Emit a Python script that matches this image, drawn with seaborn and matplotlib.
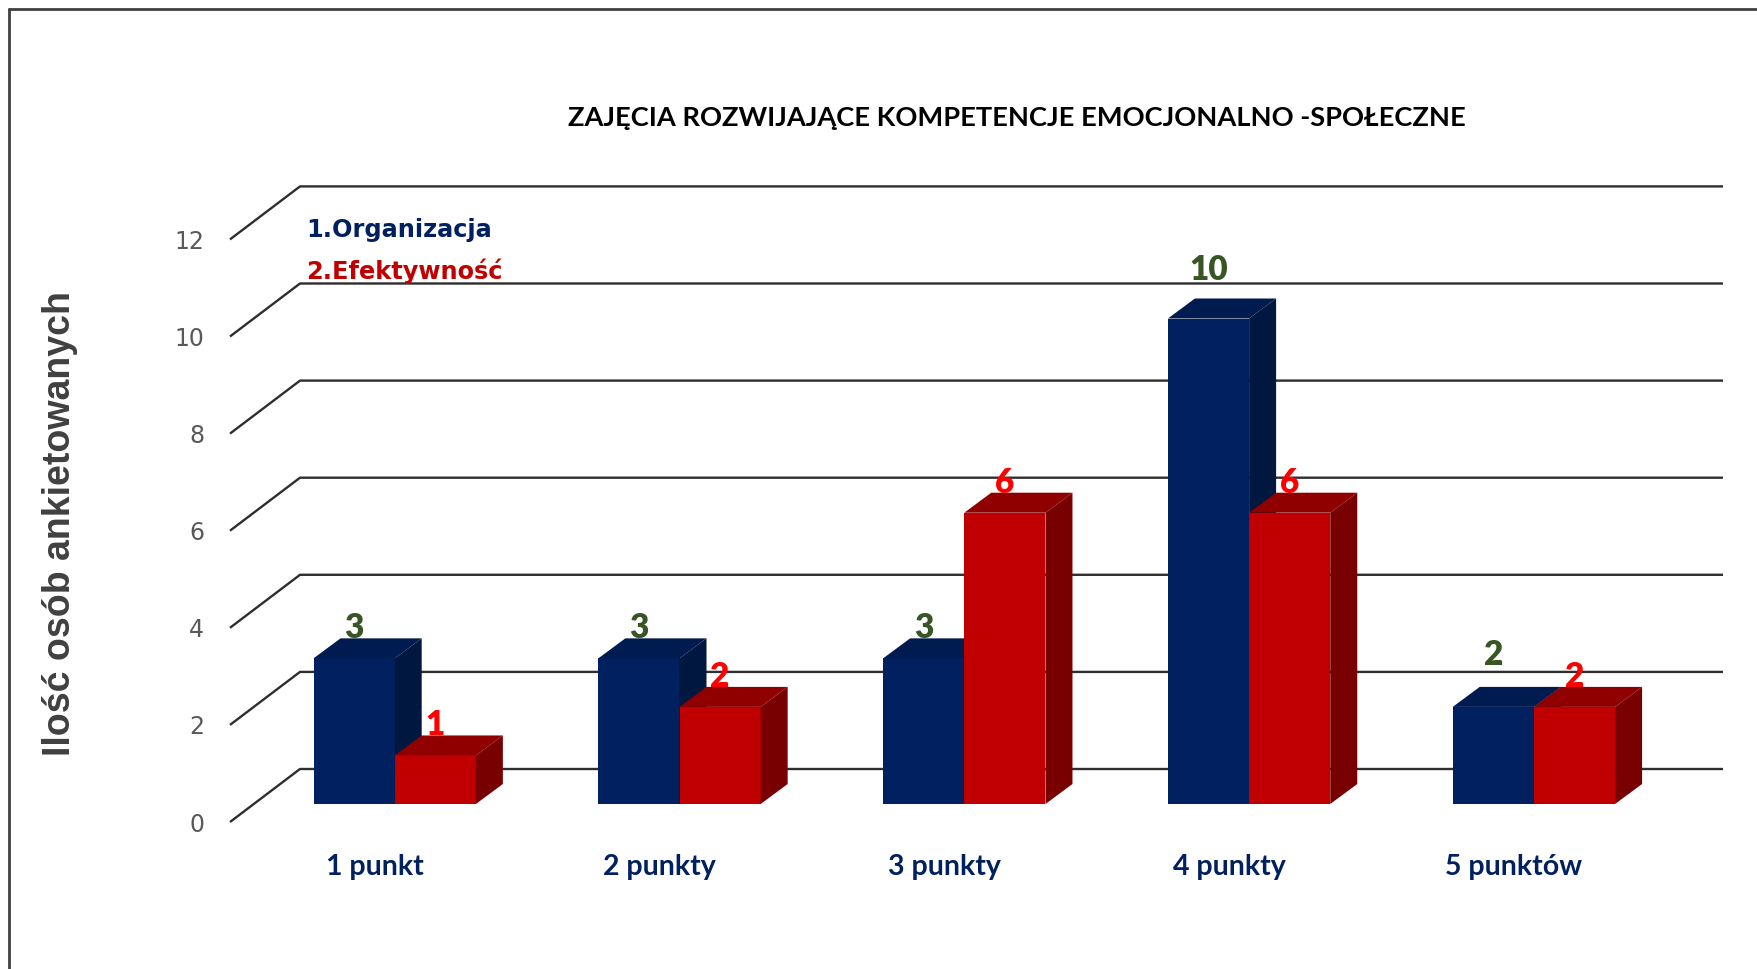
import numpy as np
import pandas as pd
import matplotlib
matplotlib.use("Agg")
import matplotlib.pyplot as plt
import matplotlib.transforms as mtransforms
from matplotlib.patches import Polygon, Patch
from matplotlib.lines import Line2D
import seaborn as sns

# ---------------- data ----------------
categories = ["1 punkt", "2 punkty", "3 punkty", "4 punkty", "5 punktów"]
series_names = ["1.Organizacja", "2.Efektywność"]
organizacja = [3, 3, 3, 10, 2]
efektywnosc = [1, 2, 6, 6, 2]
y_ticks = [0, 2, 4, 6, 8, 10, 12]
title = "ZAJĘCIA ROZWIJAJĄCE KOMPETENCJE EMOCJONALNO -SPOŁECZNE"
y_label = "Ilość osób ankietowanych"

# ---------------- style ----------------
sns.set_style("white")
plt.rcParams["font.family"] = ["Lato", "DejaVu Sans"]

W, H, DPI = 1758, 969, 100
front_col = ["#002060", "#C00000"]
top_col = ["#001B50", "#900000"]
side_col = ["#00173F", "#780000"]
value_col = ["#375623", "#FF0000"]
green_lift_px = [0, 0, 0, 18, 22]   # extra lift of the green value labels (px)
base_lift_px = 30

depth_px = (27, 20)        # bar depth offset (right, up) in px
floor_drop_px = 18         # floor front edge below bar front base
wall_px = (70, 53)         # floor depth (front edge -> back wall)

df = pd.DataFrame({
    "kategoria": categories * 2,
    "seria": [series_names[0]] * len(categories) + [series_names[1]] * len(categories),
    "liczba": organizacja + efektywnosc,
})

fig = plt.figure(figsize=(W / DPI, H / DPI), dpi=DPI)
ax_l, ax_r, ax_t, ax_b = 230, 1723, 186, 822
ax = fig.add_axes([ax_l / W, 1 - ax_b / H, (ax_r - ax_l) / W, (ax_b - ax_t) / H])

sns.barplot(data=df, x="kategoria", y="liczba", hue="seria",
            palette=front_col, width=0.57, saturation=1, legend=False,
            linewidth=0, ax=ax)

ppu_y = 48.55
ppu_x = 284.8
xmin = (ax_l - 394.7) / ppu_x
xmax = (ax_r - 394.7) / ppu_x
ymin = -(ax_b - 804) / ppu_y
ymax = (804 - ax_t) / ppu_y
ax.set_xlim(xmin, xmax)
ax.set_ylim(ymin, ymax)

dx = depth_px[0] / ppu_x
dy = depth_px[1] / ppu_y
fdrop = floor_drop_px / ppu_y
wdx = wall_px[0] / ppu_x
wdy = wall_px[1] / ppu_y

# back wall gridlines with diagonal floor/side lines
for t in y_ticks:
    y_front = t - fdrop
    ax.plot([xmin, xmin + wdx, xmax], [y_front, y_front + wdy, y_front + wdy],
            color="#2E2E2E", lw=1.7, zorder=1, solid_capstyle="butt",
            clip_on=False)

# 3D faces for bars
bars = list(ax.patches)
n = len(categories)
for k, bar in enumerate(bars):
    s = k // n
    i = k % n
    bar.set_zorder(3 + s)
    x = bar.get_x()
    w = bar.get_width()
    h = bar.get_height()
    side = Polygon([(x + w, 0), (x + w + dx, dy), (x + w + dx, h + dy), (x + w, h)],
                   closed=True, facecolor=side_col[s], edgecolor="none", zorder=3 + s)
    top = Polygon([(x, h), (x + dx, h + dy), (x + w + dx, h + dy), (x + w, h)],
                  closed=True, facecolor=top_col[s], edgecolor="none", zorder=3 + s)
    ax.add_patch(side)
    ax.add_patch(top)
    lift = base_lift_px + (green_lift_px[i] if s == 0 else 0)
    ax.annotate(f"{int(h)}", xy=(x + w / 2, h), xytext=(0, lift * 72 / DPI),
                textcoords="offset points", ha="center", va="center",
                fontsize=24, fontweight="heavy", color=value_col[s], zorder=6)

# axes decoration
for sp in ax.spines.values():
    sp.set_visible(False)
ax.set_yticks([t - fdrop for t in y_ticks])
ax.set_yticklabels([str(t) for t in y_ticks])
ax.tick_params(axis="y", length=0, pad=18.5, labelsize=17, labelcolor="#595959")
for lab in ax.get_yticklabels():
    lab.set_family("DejaVu Sans")
ax.tick_params(axis="x", length=0, pad=23, labelsize=20.5, labelcolor="#002060")
ax.set_xticks(range(n))
ax.set_xticklabels(categories, fontweight="bold")
shift = mtransforms.ScaledTranslation(-20 / DPI, 0, fig.dpi_scale_trans)
for lab in ax.get_xticklabels():
    lab.set_transform(lab.get_transform() + shift)
ax.set_xlabel("")
ax.set_ylabel(y_label, fontsize=27, fontweight="bold", color="#404040",
              family="Liberation Sans")
ax.yaxis.set_label_coords((78 - ax_l) / (ax_r - ax_l), (ax_b - 523.6) / (ax_b - ax_t))

# legend (text only)
handles = [Patch(facecolor="none", edgecolor="none") for _ in series_names]
leg = fig.legend(handles, series_names, loc="upper left",
                 bbox_to_anchor=(306 / W, 1 - 217.5 / H), frameon=False,
                 handlelength=0, handletextpad=0, borderpad=0, borderaxespad=0,
                 labelspacing=0.69, labelcolor=front_col,
                 prop={"family": "DejaVu Sans", "weight": "bold", "size": 17.3})

fig.text(1017 / W, 1 - 117.5 / H, title, ha="center", va="center",
         fontsize=19.6, fontweight="bold", color="black")

# outer frame (top and left edges visible)
fig.add_artist(Line2D([9 / W, 9 / W], [0, 1 - 9 / H], transform=fig.transFigure,
                      color="#404040", lw=2))
fig.add_artist(Line2D([9 / W, 1], [1 - 9 / H, 1 - 9 / H], transform=fig.transFigure,
                      color="#404040", lw=2))

fig.savefig("out.png", dpi=DPI)
